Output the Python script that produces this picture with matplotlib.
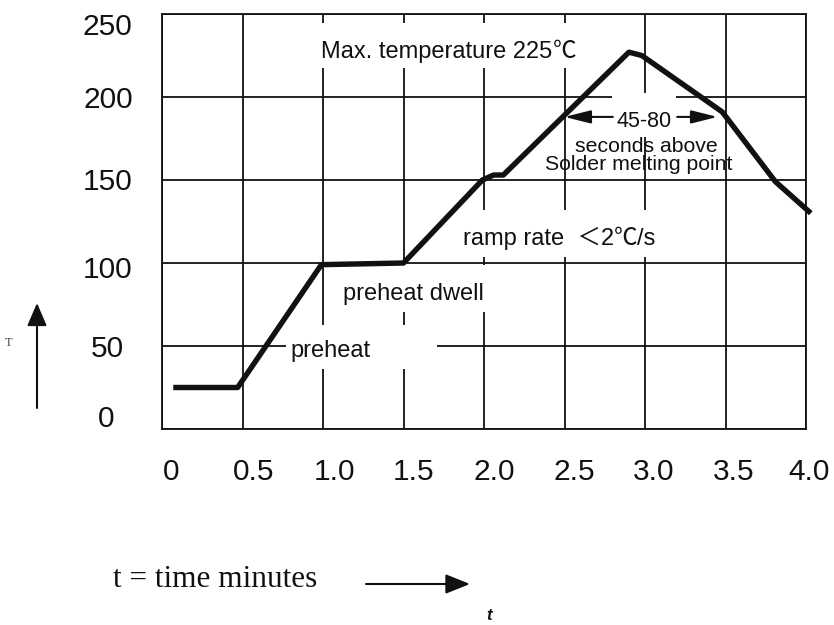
import matplotlib
matplotlib.use("Agg")
import matplotlib.pyplot as plt
from matplotlib.patches import Rectangle
from matplotlib.transforms import ScaledTranslation

# ---- data ----
time_min = [0.07, 0.47, 0.99, 1.50, 1.99, 2.06, 2.12, 2.90, 2.98, 3.48, 3.81, 4.03]
temp_c = [25, 25, 99, 100, 150, 153, 153, 227, 225, 191, 149, 130]
x_ticks = [0, 0.5, 1.0, 1.5, 2.0, 2.5, 3.0, 3.5, 4.0]
x_tick_labels = ["0", "0.5", "1.0", "1.5", "2.0", "2.5", "3.0", "3.5", "4.0"]
y_ticks = [0, 50, 100, 150, 200, 250]
y_tick_labels = ["0", "50", "100", "150", "200", "250"]
melt_window_start = 2.50
melt_window_end = 3.45
melt_window_level = 188

SANS = ["Liberation Sans", "Noto Sans CJK SC", "DejaVu Sans"]
CJK = ["Noto Sans CJK SC", "DejaVu Sans"]
INK = "#111111"

fig = plt.figure(figsize=(8.34, 6.25), dpi=100)
ax = fig.add_axes([162 / 834, 1 - 429 / 625, (806 - 162) / 834, (429 - 14) / 625])
ax.set_xlim(0, 4.0)
ax.set_ylim(0, 250)

for s in ax.spines.values():
    s.set_linewidth(1.3)
    s.set_color(INK)

ax.set_xticks(x_ticks)
ax.set_xticklabels(x_tick_labels)
ax.set_yticks(y_ticks)
ax.set_yticklabels(y_tick_labels)
ax.tick_params(axis="both", length=0, labelsize=21.5, colors=INK)
ax.tick_params(axis="x", pad=21)
ax.tick_params(axis="y", pad=39)
for lab in ax.get_xticklabels() + ax.get_yticklabels():
    lab.set_fontfamily(SANS)
for lab in ax.get_yticklabels():
    lab.set_horizontalalignment("center")

ax.grid(True, color=INK, linewidth=1.3)

# per-label nudges (pixels) to match the hand-set reference labels
x_dx = [9, 11, 11, 10, 10, 10, 9, 8, 3]
for tick, dx in zip(ax.xaxis.get_major_ticks(), x_dx):
    tick.label1.set_transform(tick.label1.get_transform()
                              + ScaledTranslation(dx / 100, 0, fig.dpi_scale_trans))
y_dy = [13, 0, -4, 1, 0, -10]
for tick, dy in zip(ax.yaxis.get_major_ticks(), y_dy):
    tick.label1.set_transform(tick.label1.get_transform()
                              + ScaledTranslation(-2 / 100 if dy == 13 else 0, dy / 100,
                                                  fig.dpi_scale_trans))

# white masks behind annotation text (interrupt the grid like the reference)
def px2data(px, py):
    return (px - 162) / 161.0, (429 - py) * 250 / 415.0

def mask(x0, y0, x1, y1):
    a = px2data(x0, y1)
    b = px2data(x1, y0)
    ax.add_patch(Rectangle(a, b[0] - a[0], b[1] - a[1], facecolor="white",
                           edgecolor="none", zorder=2))

mask(316, 23, 574, 68)     # Max. temperature
mask(612, 93, 676, 137)    # 45-80
mask(458, 210, 665, 257)   # ramp rate
mask(340, 265, 490, 312)   # preheat dwell
mask(286, 325, 437, 369)   # preheat

# profile curve
ax.plot(time_min, temp_c, color=INK, linewidth=3.9,
        solid_joinstyle="round", solid_capstyle="butt", zorder=3, clip_on=False)

# melting window arrows
arrow_kw = dict(arrowstyle="-|>,head_length=0.8,head_width=0.2", color=INK,
                lw=1.5, mutation_scale=20, shrinkA=0, shrinkB=0)
ax.annotate("", xy=(melt_window_start, melt_window_level),
            xytext=(2.80, melt_window_level), arrowprops=arrow_kw, zorder=4)
ax.annotate("", xy=(melt_window_end, melt_window_level),
            xytext=(3.20, melt_window_level), arrowprops=arrow_kw, zorder=4)

tkw = dict(color=INK, va="baseline", ha="left", zorder=5)
DESC = 0.21 * 17  # descent (pt) of the sans text at 17 pt


def add_after(base, s, dx_pt, size=17, family=CJK):
    return ax.annotate(s, xy=(1, 0), xycoords=base, xytext=(dx_pt, DESC),
                       textcoords="offset points", fontsize=size, family=family,
                       va="baseline", ha="left", color=INK, zorder=5)


t_max = ax.text(0.988, 223.3, "Max. temperature 225", fontsize=17, family=SANS, **tkw)
add_after(t_max, "℃", 0.5)
ax.text(2.826, 182.1, "45-80", fontsize=15.5, family=SANS, **tkw)
ax.text(2.565, 166.9, "seconds above", fontsize=15.3, family=SANS, **tkw)
ax.text(2.379, 156.0, "Solder melting point", fontsize=15.3, family=SANS, **tkw)
t_ramp = ax.text(1.87, 110.8, "ramp rate  ＜2", fontsize=17, family=SANS, **tkw)
add_after(t_ramp, "℃", 0.0)
add_after(t_ramp, "/s", 16.5, family=SANS)
ax.text(1.124, 77.7, "preheat dwell", fontsize=17, family=SANS, **tkw)
ax.text(0.795, 43.2, "preheat", fontsize=17, family=SANS, **tkw)

# axis captions outside the plot
fig.text(113 / 834, 38.3 / 625, "t = time minutes", fontsize=22.5,
         family=["Liberation Serif", "DejaVu Serif"], va="baseline", ha="left",
         color=INK)
ax.annotate("", xy=(470 / 834, 41 / 625), xytext=(366 / 834, 41 / 625),
            xycoords="figure fraction", textcoords="figure fraction",
            arrowprops=dict(arrowstyle="-|>,head_length=0.75,head_width=0.3",
                            color=INK, lw=1.5, mutation_scale=20,
                            shrinkA=0, shrinkB=0))
ax.annotate("", xy=(37 / 834, 322 / 625), xytext=(37 / 834, 217 / 625),
            xycoords="figure fraction", textcoords="figure fraction",
            arrowprops=dict(arrowstyle="-|>,head_length=0.7,head_width=0.3",
                            color=INK, lw=1.5, mutation_scale=20,
                            shrinkA=0, shrinkB=0))
fig.text(489 / 834, 1.5 / 625, "t", fontsize=12, style="italic", weight="bold",
         family=SANS, ha="center", va="bottom", color=INK)
fig.text(9 / 834, (625 - 337) / 625, "T", fontsize=9,
         family=["Liberation Serif"], ha="center", va="top", color="#444444")

fig.savefig("out.png", dpi=100, facecolor="white")
